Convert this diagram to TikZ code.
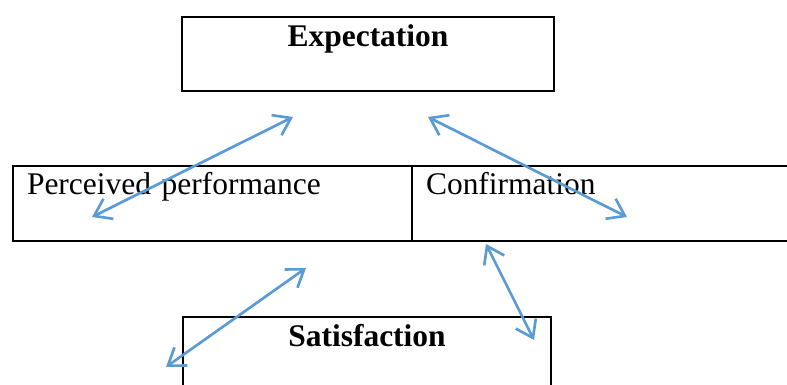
\documentclass[tikz,border=0pt]{standalone}
\usepackage{fontspec}
\setmainfont{Liberation Serif}
\usetikzlibrary{arrows.meta, positioning}
\newlength{\w}
\setlength{\w}{9.3cm}
\newlength{\cw}
\setlength{\cw}{9.275cm}
\definecolor{linkcolor}{RGB}{91,155,213}
\tikzset{block/.style={draw=black, line width=1.7pt, inner sep=0pt, minimum width=\w, text height=0.725cm, text depth=1.125cm, font=\fontsize{22.4}{27}\selectfont\bfseries}}
\tikzset{cell/.style={draw=black, line width=1.7pt, inner xsep=0.35cm, inner ysep=0pt, outer sep=0pt, text width=\cw, align=left, text height=0.725cm, text depth=1.15cm, font=\fontsize{22.4}{27}\selectfont}}
\tikzset{link/.style={draw=linkcolor, line width=1.9pt, {Straight Barb[length=0.4cm,width=0.56cm]}-{Straight Barb[length=0.4cm,width=0.56cm]}}}

\begin{document}
\begin{tikzpicture}

	\useasboundingbox (0,0) rectangle (19.675,-9.625);
	\clip (0,0) rectangle (19.675,-9.625);

	%%% NODES %%%

	% TOP
	\node[block, anchor=north] at (9.2,-0.4) (expectation) {Expectation};

	% MIDDLE ROW
	\node[cell, anchor=north west] at (0.325,-4.15) (perceived) {Perceived performance};
	\node[cell, right=0pt of perceived] (confirmation) {Confirmation};

	% BOTTOM
	\node[block, anchor=north, minimum width=9.2cm] at (9.175,-7.9) (satisfaction) {Satisfaction};

	%%% ARROW ENDS %%%
	\coordinate (a1) at (2.3,-5.425);
	\coordinate (b1) at (7.325,-2.925);
	\coordinate (a2) at (10.7,-2.925);
	\coordinate (b2) at (15.675,-5.425);
	\coordinate (a3) at (4.15,-9.175);
	\coordinate (b3) at (7.65,-6.7);
	\coordinate (a4) at (12.15,-6.1);
	\coordinate (b4) at (13.35,-8.5);

	%%% ARROWS %%%
	\draw[link] (a1) -- (b1);
	\draw[link] (a2) -- (b2);
	\draw[link] (a3) -- (b3);
	\draw[link] (a4) -- (b4);

\end{tikzpicture}
\end{document}
